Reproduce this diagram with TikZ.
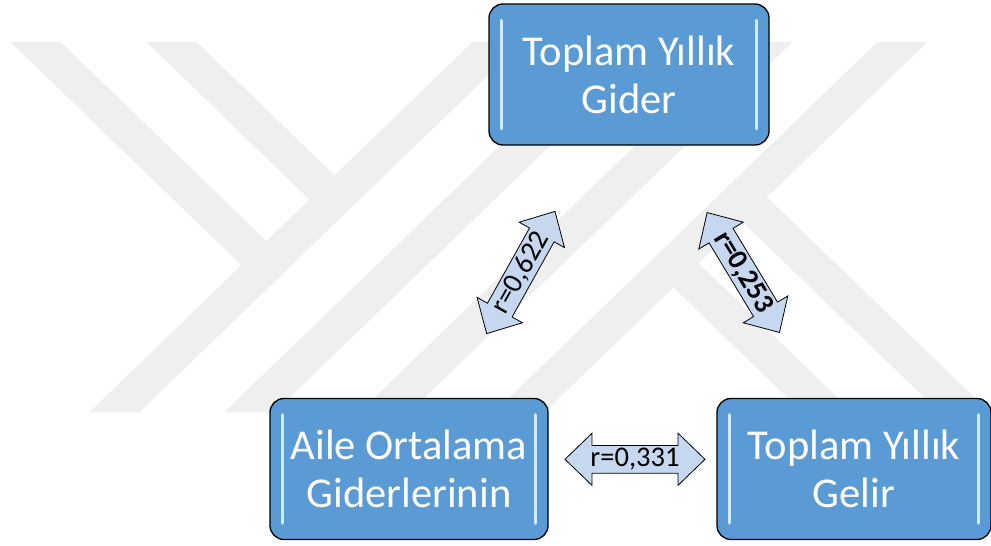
\documentclass[tikz,border=0pt]{standalone}
\usepackage{fontspec}
\setmainfont{Carlito}
\usetikzlibrary{shapes.arrows}
\definecolor{wm}{RGB}{239,239,239}
\definecolor{kutumavi}{RGB}{91,155,213}
\definecolor{parlak}{RGB}{208,236,252}
\definecolor{okmavi}{RGB}{197,216,240}
\tikzset{
  kutu/.style={draw=black, line width=1.3pt, fill=kutumavi, rounded corners=14pt,
    minimum width=280pt, minimum height=141pt, align=center, text=white,
    font=\fontsize{42.5}{48}\selectfont},
  parlama/.style={draw=parlak, line width=3.5pt, line cap=round},
  okbox/.style={double arrow, draw=black, line width=0.8pt, fill=okmavi,
    minimum height=140pt, minimum width=52pt, double arrow head extend=10pt,
    double arrow tip angle=88, inner sep=0pt, text=black,
    font=\fontsize{28.5}{28.5}\selectfont}
}
\begin{document}
\begin{tikzpicture}[x=1pt, y=-1pt]
    \useasboundingbox (0,0) rectangle (991,546);
    \fill[white] (0,0) rectangle (991,546);
    \fill[wm] (10.5,42)--(60.5,42)--(276.5,250.8)--(251.5,274.9)--cycle;
    \fill[wm] (146.5,42)--(196.5,42)--(344.5,185.1)--(319.5,209.2)--cycle;
    \fill[wm] (472.5,42)--(522.5,42)--(139.6,412)--(89.6,412)--cycle;
    \fill[wm] (607.5,42)--(657.5,42)--(274.6,412)--(224.6,412)--cycle;
    \fill[wm] (742.5,42)--(792.5,42)--(409.6,412)--(359.6,412)--cycle;
    \fill[wm] (877.5,42)--(927.5,42)--(544.6,412)--(494.6,412)--cycle;
    \fill[wm] (731.5,211.3)--(756.5,187.2)--(989.4,412)--(939.4,412)--cycle;
    \fill[wm] (663.5,277.7)--(688.5,253.6)--(852.4,412)--(802.4,412)--cycle;

    \node[kutu] (gider) at (629,74.5) {Toplam Yıllık\\Gider};
    \node[kutu, minimum width=278pt] (aile) at (409,469) {Aile Ortalama\\Giderlerinin};
    \node[kutu, minimum width=274pt] (gelir) at (854,469) {Toplam Yıllık\\Gelir};
    \foreach \k in {gider,aile,gelir}{
        \draw[parlama] ([xshift=13pt,yshift=-17pt]\k.north west) -- ([xshift=13pt,yshift=17pt]\k.south west);
        \draw[parlama] ([xshift=-13pt,yshift=-17pt]\k.north east) -- ([xshift=-13pt,yshift=17pt]\k.south east);
    }

    \node[okbox, rotate=60.8] (r1) at (520.8,272.5) {r=0,622};
    \node[okbox, rotate=-58.9, font=\fontsize{28.5}{28.5}\selectfont\bfseries] (r2) at (743.3,272.5) {r=0,253};
    \node[okbox] (r3) at (635,459.3) {r=0,331};
\end{tikzpicture}
\end{document}
